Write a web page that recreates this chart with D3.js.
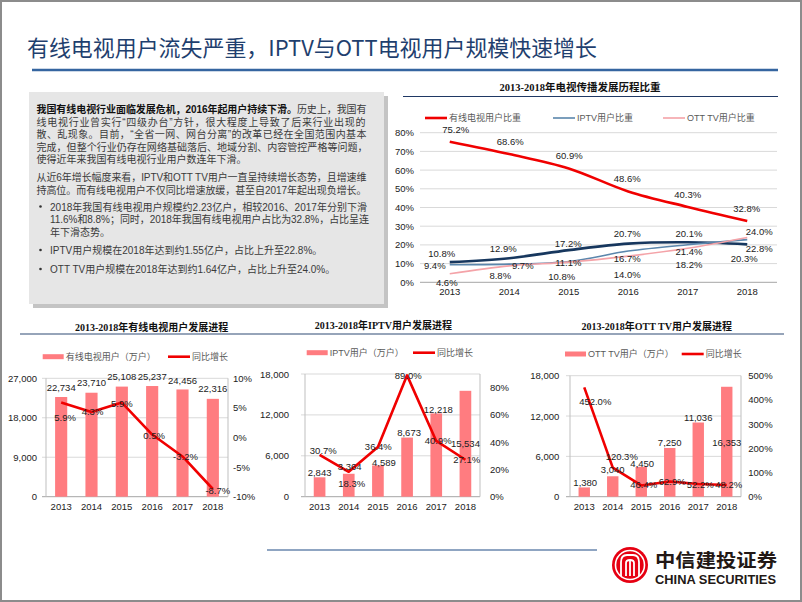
<!DOCTYPE html>
<html><head><meta charset="utf-8">
<script src="https://cdn.jsdelivr.net/npm/d3@7"></script>
<style>body{margin:0;background:#fff}svg{display:block}</style>
</head><body>
<script>
// ---------------- DATA ----------------
const years = ["2013","2014","2015","2016","2017","2018"];
const cableShare = [75.2,68.6,60.9,48.6,40.3,32.8];
const iptvShare  = [9.4,9.7,11.1,16.7,20.1,22.8];
const ottShare   = [4.6,8.8,10.8,14.0,18.2,24.0];
const otherShare = [10.8,12.9,17.2,20.7,21.4,20.3];
const shareTicks = [0,10,20,30,40,50,60,70,80];

const cableUsers  = [22734,23710,25108,25237,24456,22316];
const cableGrowth = [5.9,4.3,5.9,0.5,-3.2,-8.7];
const cableUserTicks = [0,9000,18000,27000];
const cableGrowthTicks = [-10,-5,0,5,10];

const iptvUsers  = [2843,3364,4589,8673,12218,15534];
const iptvGrowth = [30.7,18.3,36.4,89.0,40.9,27.1];
const iptvUserTicks = [0,6000,12000,18000];
const iptvGrowthTicks = [0,20,40,60,80];

const ottUsers  = [1380,3040,4450,7250,11036,16353];
const ottGrowth = [452.0,120.3,46.4,62.9,52.2,48.2];
const ottUserTicks = [0,6000,12000,18000];
const ottGrowthTicks = [0,100,200,300,400,500];

// ---------------- STYLE ----------------
const CJK = '"Noto Sans CJK SC", sans-serif';
const SANS = '"Liberation Sans", Arial, "Noto Sans CJK SC", sans-serif';
const SERIF = '"Liberation Serif", "Times New Roman", "Noto Sans CJK SC", serif';
const BAR = "#FF7C80", RED = "#F00000";

const svg = d3.select("body").append("svg").attr("width",802).attr("height",602);

// page frame
svg.append("rect").attr("x",1).attr("y",1).attr("width",800).attr("height",600)
  .attr("fill","#fff").attr("stroke","#8C8C8C").attr("stroke-width",2);

// main title
svg.append("text").attr("x",27).attr("y",46).attr("dominant-baseline","central")
  .attr("font-family",CJK).attr("font-size",22).attr("fill","#1F3F6E")
  .attr("textLength",570).attr("lengthAdjust","spacingAndGlyphs")
  .text("有线电视用户流失严重，IPTV与OTT电视用户规模快速增长");
svg.append("line").attr("x1",32).attr("x2",778).attr("y1",70).attr("y2",70)
  .attr("stroke","#3565A0").attr("stroke-width",2.5);

// ---------------- TEXT BOX ----------------
svg.append("rect").attr("x",33).attr("y",96).attr("width",355).attr("height",212).attr("fill","#C4C4C4");
svg.append("rect").attr("x",29).attr("y",92).attr("width",355).attr("height",212).attr("fill","#E6E6E6");

const boxLines = [
  {y:109, x:36.5, len:330, parts:[["我国有线电视行业面临发展危机，2016年起用户持续下滑。",true],["历史上，我国有",false]]},
  {y:121.5, x:36.5, len:329, parts:[["线电视行业曾实行“四级办台”方针，很大程度上导致了后来行业出现的",false]]},
  {y:134, x:36.5, len:330, parts:[["散、乱现象。目前，“全省一网、网台分离”的改革已经在全国范围内基本",false]]},
  {y:146.5, x:36.5, len:331, parts:[["完成，但整个行业仍存在网络基础落后、地域分割、内容管控严格等问题，",false]]},
  {y:159, x:36.5, len:null, parts:[["使得近年来我国有线电视行业用户数连年下滑。",false]]},
  {y:177, x:36.5, len:330, parts:[["从近6年增长幅度来看，IPTV和OTT TV用户一直呈持续增长态势，且增速维",false]]},
  {y:189.5, x:36.5, len:330, parts:[["持高位。而有线电视用户不仅同比增速放缓，甚至自2017年起出现负增长。",false]]},
  {y:206.5, x:50, len:317, bullet:true, parts:[["2018年我国有线电视用户规模约2.23亿户，相较2016、2017年分别下滑",false]]},
  {y:219, x:50, len:319, parts:[["11.6%和8.8%；同时，2018年我国有线电视用户占比为32.8%，占比呈连",false]]},
  {y:231.5, x:50, len:null, parts:[["年下滑态势。",false]]},
  {y:250, x:50, len:null, bullet:true, parts:[["IPTV用户规模在2018年达到约1.55亿户，占比上升至22.8%。",false]]},
  {y:269, x:50, len:null, bullet:true, parts:[["OTT TV用户规模在2018年达到约1.64亿户，占比上升至24.0%。",false]]}
];
const tb = svg.append("g");
boxLines.forEach(l => {
  const t = tb.append("text").attr("x",l.x).attr("y",l.y).attr("dominant-baseline","central")
    .attr("font-family",SANS).attr("font-size",10).attr("fill","#3A3A3A");
  if (l.len) t.attr("textLength",l.len).attr("lengthAdjust","spacing");
  l.parts.forEach(p => t.append("tspan").attr("font-weight",p[1]?"bold":"normal")
    .attr("fill",p[1]?"#111":"#3A3A3A").text(p[0]));
  if (l.bullet) tb.append("circle").attr("cx",40.5).attr("cy",l.y).attr("r",1.3).attr("fill","#333");
});

// ---------------- TOP-RIGHT LINE CHART ----------------
const tc = {x0:420, x1:777, y0:282.3, y1:132.7};
const xT = d3.scaleBand().domain(years).range([tc.x0, tc.x1]);
const yT = d3.scaleLinear().domain([0,80]).range([tc.y0, tc.y1]);
const cxT = d => xT(d) + xT.bandwidth()/2;

svg.append("text").attr("x",580).attr("y",87).attr("text-anchor","middle").attr("dominant-baseline","central")
  .attr("font-family",SERIF).attr("font-weight","bold").attr("font-size",10.5).attr("fill","#111")
  .text("2013-2018年电视传播发展历程比重");
svg.append("line").attr("x1",403).attr("x2",778).attr("y1",96.5).attr("y2",96.5)
  .attr("stroke","#1F3864").attr("stroke-width",1.2);

svg.append("g").selectAll("line").data(shareTicks).join("line")
  .attr("x1",tc.x0).attr("x2",tc.x1).attr("y1",d=>yT(d)).attr("y2",d=>yT(d))
  .attr("stroke",d=>d===0?"#A6A6A6":"#D9D9D9").attr("stroke-width",1);

const gyT = svg.append("g").attr("transform",`translate(414,0)`)
  .call(d3.axisLeft(yT).tickValues(shareTicks).tickFormat(d=>d+"%").tickSize(0).tickPadding(0));
gyT.select(".domain").remove();
gyT.selectAll("text").attr("font-family",SANS).attr("font-size",9.5).attr("fill","#222");

const gxT = svg.append("g").attr("transform",`translate(0,292)`)
  .call(d3.axisBottom(xT).tickSize(0).tickPadding(0));
gxT.select(".domain").remove();
gxT.selectAll("text").attr("y",0).attr("dy","0.35em").attr("font-family",SANS).attr("font-size",9.5).attr("fill","#222");

const shareSeries = [
  {name:"其他", values:otherShare, color:"#17375E", width:2.6, legend:false,
   off:[[-8,-9],[-6,-10],[-0.5,-7],[-1,-9.6],[1.2,9.3],[-3,14]]},
  {name:"IPTV用户比重", values:iptvShare, color:"#5B86AC", width:1.6, legend:true, lx:553,
   off:[[-15,1],[13.5,1.5],[-0.5,1],[-1,7.2],[1.2,-11.5],[12,8.5]]},
  {name:"OTT TV用户比重", values:ottShare, color:"#F4A3A8", width:1.6, legend:true, lx:663,
   off:[[-3,8.6],[-9,10],[-7,14.6],[-1,18.8],[1.2,16.7],[12,-5.8]]},
  {name:"有线电视用户比重", values:cableShare, color:RED, width:2.6, legend:true, lx:425,
   off:[[6,-12],[1,-12.6],[0.5,-13],[-1,-12.6],[0,-12],[-0.5,-12.8]]}
];
const lineT = d3.line().x((d,i)=>cxT(years[i])).y(d=>yT(d)).curve(d3.curveCatmullRom.alpha(0.5));
shareSeries.forEach(s => {
  svg.append("path").datum(s.values).attr("d",lineT).attr("fill","none")
    .attr("stroke",s.color).attr("stroke-width",s.width).attr("stroke-linejoin","round");
});
shareSeries.forEach(s => {
  svg.append("g").selectAll("text").data(s.values).join("text")
    .attr("x",(d,i)=>cxT(years[i])+s.off[i][0]).attr("y",(d,i)=>yT(d)+s.off[i][1])
    .attr("text-anchor","middle").attr("dominant-baseline","central")
    .attr("font-family",SANS).attr("font-size",9.5).attr("fill","#222")
    .text(d=>d.toFixed(1)+"%");
  if (s.legend) {
    svg.append("line").attr("x1",s.lx).attr("x2",s.lx+22).attr("y1",118).attr("y2",118)
      .attr("stroke",s.color).attr("stroke-width",s.width);
    svg.append("text").attr("x",s.lx+24).attr("y",118).attr("dominant-baseline","central")
      .attr("font-family",SANS).attr("font-size",9).attr("fill","#595959").text(s.name);
  }
});

// ---------------- BOTTOM COMBO CHARTS ----------------
svg.append("line").attr("x1",20).attr("x2",784).attr("y1",334).attr("y2",334)
  .attr("stroke","#2F4A75").attr("stroke-width",1.2);

function combo(c) {
  const xs = d3.scaleBand().domain(years).range([c.x0,c.x1]).paddingInner(0.6).paddingOuter(0.3);
  const cx = d => xs(d) + xs.bandwidth()/2;
  const yL = d3.scaleLinear().domain([0,c.lTicks[c.lTicks.length-1]]).range([c.y0,c.y1]);
  const yR = d3.scaleLinear().domain(c.rDomain).range([c.y0,c.y1]);
  const g = svg.append("g");

  g.append("text").attr("x",c.titleX).attr("y",c.titleY).attr("text-anchor","middle").attr("dominant-baseline","central")
    .attr("font-family",SERIF).attr("font-weight","bold").attr("font-size",10).attr("fill","#111").text(c.title);

  // legend
  g.append("rect").attr("x",c.lg[0]).attr("y",c.lg[2]-2.5).attr("width",21).attr("height",5).attr("fill",BAR);
  g.append("text").attr("x",c.lg[0]+23).attr("y",c.lg[2]).attr("dominant-baseline","central")
    .attr("font-family",SANS).attr("font-size",9).attr("fill","#595959").text(c.barName);
  g.append("line").attr("x1",c.lg[1]).attr("x2",c.lg[1]+22).attr("y1",c.lg[2]).attr("y2",c.lg[2])
    .attr("stroke",RED).attr("stroke-width",2.6);
  g.append("text").attr("x",c.lg[1]+24).attr("y",c.lg[2]).attr("dominant-baseline","central")
    .attr("font-family",SANS).attr("font-size",9).attr("fill","#595959").text("同比增长");

  // grid
  g.append("g").selectAll("line").data(c.lTicks).join("line")
    .attr("x1",c.x0-4).attr("x2",c.x1).attr("y1",d=>yL(d)).attr("y2",d=>yL(d))
    .attr("stroke",d=>d===0?"#A6A6A6":"#D9D9D9");
  [c.x0,c.x1].forEach(x => g.append("line").attr("x1",x).attr("x2",x).attr("y1",c.y1).attr("y2",c.y0)
    .attr("stroke","#BFBFBF"));

  const al = g.append("g").attr("transform",`translate(${c.lLabX},0)`)
    .call(d3.axisLeft(yL).tickValues(c.lTicks).tickFormat(d3.format(",")).tickSize(0).tickPadding(0));
  al.select(".domain").remove();
  al.selectAll("text").attr("font-family",SANS).attr("font-size",9.5).attr("fill","#222");
  const ar = g.append("g").attr("transform",`translate(${c.rLabX},0)`)
    .call(d3.axisRight(yR).tickValues(c.rTicks).tickFormat(d=>d+"%").tickSize(0).tickPadding(0));
  ar.select(".domain").remove();
  ar.selectAll("text").attr("font-family",SANS).attr("font-size",9.5).attr("fill","#222");
  const ax = g.append("g").attr("transform",`translate(0,506.5)`)
    .call(d3.axisBottom(xs).tickSize(0).tickPadding(0));
  ax.select(".domain").remove();
  ax.selectAll("text").attr("y",0).attr("dy","0.35em").attr("font-family",SANS).attr("font-size",9.5).attr("fill","#222");

  // bars
  g.append("g").selectAll("rect").data(c.bars).join("rect")
    .attr("x",(d,i)=>xs(years[i])).attr("width",xs.bandwidth())
    .attr("y",d=>yL(d)).attr("height",d=>c.y0-yL(d)).attr("fill",BAR);
  // line
  const ln = d3.line().x((d,i)=>cx(years[i])).y(d=>yR(d));
  g.append("path").datum(c.growth).attr("d",ln).attr("fill","none").attr("stroke",RED)
    .attr("stroke-width",2.6).attr("stroke-linejoin","round");
  // labels
  g.append("g").selectAll("text").data(c.bars).join("text")
    .attr("x",(d,i)=>cx(years[i])+c.barOff[i][0]).attr("y",(d,i)=>yL(d)+c.barOff[i][1])
    .attr("text-anchor","middle").attr("dominant-baseline","central")
    .attr("font-family",SANS).attr("font-size",9.5).attr("fill","#222").text(d3.format(","));
  g.append("g").selectAll("text").data(c.growth).join("text")
    .attr("x",(d,i)=>cx(years[i])+c.gOff[i][0]).attr("y",(d,i)=>yR(d)+c.gOff[i][1])
    .attr("text-anchor","middle").attr("dominant-baseline","central")
    .attr("font-family",SANS).attr("font-size",9.5).attr("fill","#222").text(d=>d.toFixed(1)+"%");
}

combo({title:"2013-2018年有线电视用户发展进程", titleX:151.7, titleY:327,
  barName:"有线电视用户（万户）", lg:[42.7,168,356.7],
  x0:46, x1:228, y0:496.7, y1:378.3, lTicks:cableUserTicks, rDomain:[-10,10], rTicks:cableGrowthTicks,
  lLabX:37, rLabX:233, bars:cableUsers, growth:cableGrowth,
  barOff:[[0,-9.6],[0,-10],[0,-10],[0,-9.5],[0,-9],[0,-10]],
  gOff:[[4,15],[1,-1],[0,0.7],[2,0.5],[3,0.3],[5,1]]});

combo({title:"2013-2018年IPTV用户发展进程", titleX:383.3, titleY:325,
  barName:"IPTV用户（万户）", lg:[306.7,413,352.7],
  x0:305, x1:480, y0:496.7, y1:374, lTicks:iptvUserTicks, rDomain:[0,90], rTicks:iptvGrowthTicks,
  lLabX:289, rLabX:490, bars:iptvUsers, growth:iptvGrowth,
  barOff:[[0,-5],[1,-7],[6,-2.7],[2,-5.3],[2,-4.4],[0,53]],
  gOff:[[3.7,-4],[3,11.5],[0.4,-0.4],[1.2,0],[2,0],[1.3,0]]});

combo({title:"2013-2018年OTT TV用户发展进程", titleX:656.7, titleY:326.5,
  barName:"OTT TV用户（万户）", lg:[565,681.7,354],
  x0:570, x1:741, y0:496.7, y1:375.7, lTicks:ottUserTicks, rDomain:[0,500], rTicks:ottGrowthTicks,
  lLabX:559.3, rLabX:748.3, bars:ottUsers, growth:ottGrowth,
  barOff:[[1,-5],[0,-7],[1,-3.5],[0,-5.7],[0,-5.2],[0,55.5]],
  gOff:[[11,14.4],[9,-11],[2.5,-0.5],[2.5,0],[2,0],[2,-1]]});

// ---------------- FOOTER ----------------
svg.append("line").attr("x1",267).attr("x2",597).attr("y1",550).attr("y2",550)
  .attr("stroke","#8FA5C2").attr("stroke-width",2);
const logo = svg.append("g").attr("transform","translate(630,565)");
logo.append("circle").attr("r",18).attr("fill","#E60012");
logo.append("circle").attr("r",14.5).attr("fill","none").attr("stroke","#fff").attr("stroke-width",1.6);
logo.append("path").attr("d","M-9,11 V-3 Q-9,-10 -3,-10 H3 Q9,-10 9,-3 V11 M-4,11 V-2 Q-4,-5 0,-5 Q4,-5 4,-2 V11 M0,-5 V11")
  .attr("fill","none").attr("stroke","#fff").attr("stroke-width",1.8);
svg.append("text").attr("x",655).attr("y",559).attr("dominant-baseline","central")
  .attr("font-family",CJK).attr("font-weight","bold").attr("font-size",18.5).attr("fill","#231815")
  .attr("textLength",122).attr("lengthAdjust","spacingAndGlyphs").text("中信建投证券");
svg.append("text").attr("x",655).attr("y",580).attr("dominant-baseline","central")
  .attr("font-family",SANS).attr("font-weight","bold").attr("font-size",12).attr("fill","#231815")
  .attr("textLength",121).attr("lengthAdjust","spacingAndGlyphs").text("CHINA SECURITIES");
</script>
</body></html>
